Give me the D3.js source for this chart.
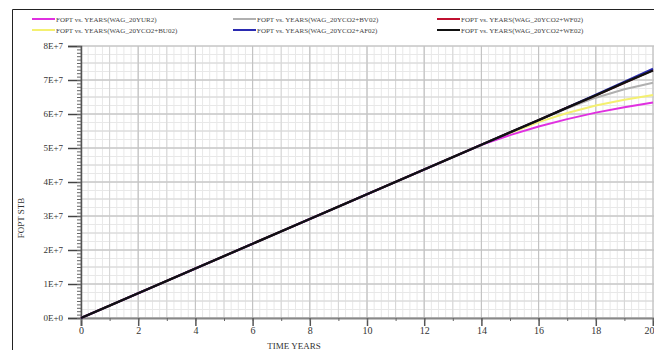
<!DOCTYPE html>
<html><head><meta charset="utf-8">
<script src="https://cdn.jsdelivr.net/npm/d3@7"></script>
<style>body{margin:0;background:#fff;}svg{display:block;}</style>
</head><body>
<svg id="c" width="654" height="350"></svg>
<script>
const years = [0,1,2,3,4,5,6,7,8,9,10,11,12,13,14,15,16,17,18,19,20];
const seriesNames = [
  "FOPT vs. YEARS(WAG_20YUR2)",
  "FOPT vs. YEARS(WAG_20YCO2+BV02)",
  "FOPT vs. YEARS(WAG_20YCO2+WF02)",
  "FOPT vs. YEARS(WAG_20YCO2+BU02)",
  "FOPT vs. YEARS(WAG_20YCO2+AF02)",
  "FOPT vs. YEARS(WAG_20YCO2+WE02)"
];
const seriesColors = ["#e030e0","#b0b0b0","#c01030","#f4f070","#2a2ab0","#111111"];
const magenta = [0,0.364e7,0.728e7,1.092e7,1.456e7,1.82e7,2.184e7,2.548e7,2.912e7,3.276e7,3.64e7,4.004e7,4.368e7,4.732e7,5.096e7,5.38e7,5.63e7,5.85e7,6.04e7,6.20e7,6.34e7];
const grey    = [0,0.364e7,0.728e7,1.092e7,1.456e7,1.82e7,2.184e7,2.548e7,2.912e7,3.276e7,3.64e7,4.004e7,4.368e7,4.732e7,5.096e7,5.46e7,5.82e7,6.17e7,6.48e7,6.73e7,6.92e7];
const red     = [0,0.364e7,0.728e7,1.092e7,1.456e7,1.82e7,2.184e7,2.548e7,2.912e7,3.276e7,3.64e7,4.004e7,4.368e7,4.732e7,5.096e7,5.46e7,5.82e7,6.19e7,6.55e7,6.92e7,7.29e7];
const yellow  = [0,0.364e7,0.728e7,1.092e7,1.456e7,1.82e7,2.184e7,2.548e7,2.912e7,3.276e7,3.64e7,4.004e7,4.368e7,4.732e7,5.096e7,5.44e7,5.76e7,6.03e7,6.25e7,6.42e7,6.56e7];
const blue    = [0,0.364e7,0.728e7,1.092e7,1.456e7,1.82e7,2.184e7,2.548e7,2.912e7,3.276e7,3.64e7,4.004e7,4.368e7,4.732e7,5.096e7,5.46e7,5.82e7,6.19e7,6.57e7,6.95e7,7.33e7];
const black   = [0,0.364e7,0.728e7,1.092e7,1.456e7,1.82e7,2.184e7,2.548e7,2.912e7,3.276e7,3.64e7,4.004e7,4.368e7,4.732e7,5.096e7,5.46e7,5.82e7,6.19e7,6.55e7,6.92e7,7.28e7];
const seriesValues = [magenta, grey, red, yellow, blue, black];
const xTickLabels = ["0","2","4","6","8","10","12","14","16","18","20"];
const yTickLabels = ["0E+0","1E+7","2E+7","3E+7","4E+7","5E+7","6E+7","7E+7","8E+7"];

const svg = d3.select("#c");
const x = d3.scaleLinear().domain([0,20]).range([81,653]);
const y = d3.scaleLinear().domain([0,8e7]).range([318,46]);
const font = "'Liberation Serif', 'DejaVu Serif', serif";

// frame
svg.append("path").attr("d","M12.5,350 V9.5 H654").attr("fill","none").attr("stroke","#222").attr("stroke-width",1);

// grid
const g = svg.append("g");
g.selectAll(".vm").data(d3.range(0,20.01,0.25)).enter().append("line")
  .attr("x1",d=>x(d)).attr("x2",d=>x(d)).attr("y1",46).attr("y2",318)
  .attr("stroke","#e8e8e8").attr("stroke-width",1);
g.selectAll(".hm").data(d3.range(0,80.01,2.5).map(d=>d*1e6)).enter().append("line")
  .attr("y1",d=>y(d)).attr("y2",d=>y(d)).attr("x1",81).attr("x2",654)
  .attr("stroke","#e8e8e8").attr("stroke-width",1);
g.selectAll(".v1").data(d3.range(0,21,1)).enter().append("line")
  .attr("x1",d=>x(d)).attr("x2",d=>x(d)).attr("y1",46).attr("y2",318)
  .attr("stroke","#d6d6d6").attr("stroke-width",1);
g.selectAll(".h1").data(d3.range(0,8.01,0.5).map(d=>d*1e7)).enter().append("line")
  .attr("y1",d=>y(d)).attr("y2",d=>y(d)).attr("x1",81).attr("x2",654)
  .attr("stroke","#d6d6d6").attr("stroke-width",1);
g.selectAll(".v2").data(d3.range(0,21,2)).enter().append("line")
  .attr("x1",d=>x(d)).attr("x2",d=>x(d)).attr("y1",46).attr("y2",318)
  .attr("stroke","#c2c2c2").attr("stroke-width",1);
g.selectAll(".h2").data(d3.range(0,9,1).map(d=>d*1e7)).enter().append("line")
  .attr("y1",d=>y(d)).attr("y2",d=>y(d)).attr("x1",81).attr("x2",654)
  .attr("stroke","#c2c2c2").attr("stroke-width",1);

// axes
const yAxis = d3.axisLeft(y).tickValues(d3.range(0,9).map(d=>d*1e7)).tickSize(13).tickFormat((d,i)=>yTickLabels[i]);
const ya = svg.append("g").attr("transform","translate(81,0)").call(yAxis);
ya.select(".domain").attr("stroke","#555").attr("stroke-width",1.5);
ya.selectAll(".tick line").attr("stroke","#444").attr("stroke-width",1.5);
ya.selectAll("text").attr("font-family",font).attr("font-size",9).attr("fill","#333").attr("dx",-2);
const yMinor = d3.axisLeft(y).tickValues(d3.range(0,81).map(d=>d*1e6)).tickSize(4).tickFormat("");
const ym = svg.append("g").attr("transform","translate(81,0)").call(yMinor);
ym.select(".domain").remove();
ym.selectAll(".tick line").attr("stroke","#666");

const xAxis = d3.axisBottom(x).tickValues(d3.range(0,21,2)).tickSize(8).tickFormat((d,i)=>xTickLabels[i]);
const xa = svg.append("g").attr("transform","translate(0,318)").call(xAxis);
xa.select(".domain").attr("stroke","#888").attr("stroke-width",2);
xa.selectAll(".tick line").attr("stroke","#555").attr("stroke-width",1.5);
xa.selectAll("text").attr("font-family",font).attr("font-size",10).attr("fill","#333").attr("dy","0.5em");
xa.selectAll("text").filter(d=>d===20).attr("text-anchor","end").attr("dx",1);
const xMinor = d3.axisBottom(x).tickValues(d3.range(0,21,1)).tickSize(3).tickFormat("");
const xm = svg.append("g").attr("transform","translate(0,318)").call(xMinor);
xm.select(".domain").remove();
xm.selectAll(".tick line").attr("stroke","#666");

// titles
svg.append("text").attr("x",294).attr("y",349).attr("text-anchor","middle")
  .attr("font-family",font).attr("font-size",9).attr("fill","#333").text("TIME  YEARS");
svg.append("text").attr("transform","translate(24,218) rotate(-90)").attr("text-anchor","middle")
  .attr("font-family",font).attr("font-size",9).attr("fill","#333").text("FOPT  STB");

// lines
const line = d3.line().x((d,i)=>x(years[i])).y(d=>y(d));
const order = [1,2,3,0,4,5];
svg.append("g").selectAll("path").data(order).enter().append("path")
  .attr("d",i=>line(seriesValues[i])).attr("fill","none")
  .attr("stroke",i=>seriesColors[i]).attr("stroke-width",i=>i===5?2.4:2);

// legend
const legPos = [[32,19],[233,19],[437,19],[32,30],[233,30],[437,30]];
const leg = svg.append("g");
seriesNames.forEach((n,i)=>{
  const [lx,ly] = legPos[i];
  leg.append("line").attr("x1",lx).attr("x2",lx+23).attr("y1",ly).attr("y2",ly)
    .attr("stroke",seriesColors[i]).attr("stroke-width",2);
  leg.append("text").attr("x",lx+24).attr("y",ly+2.5).attr("font-family",font)
    .attr("font-size",7).attr("fill","#444").text(n);
});
</script>
</body></html>
